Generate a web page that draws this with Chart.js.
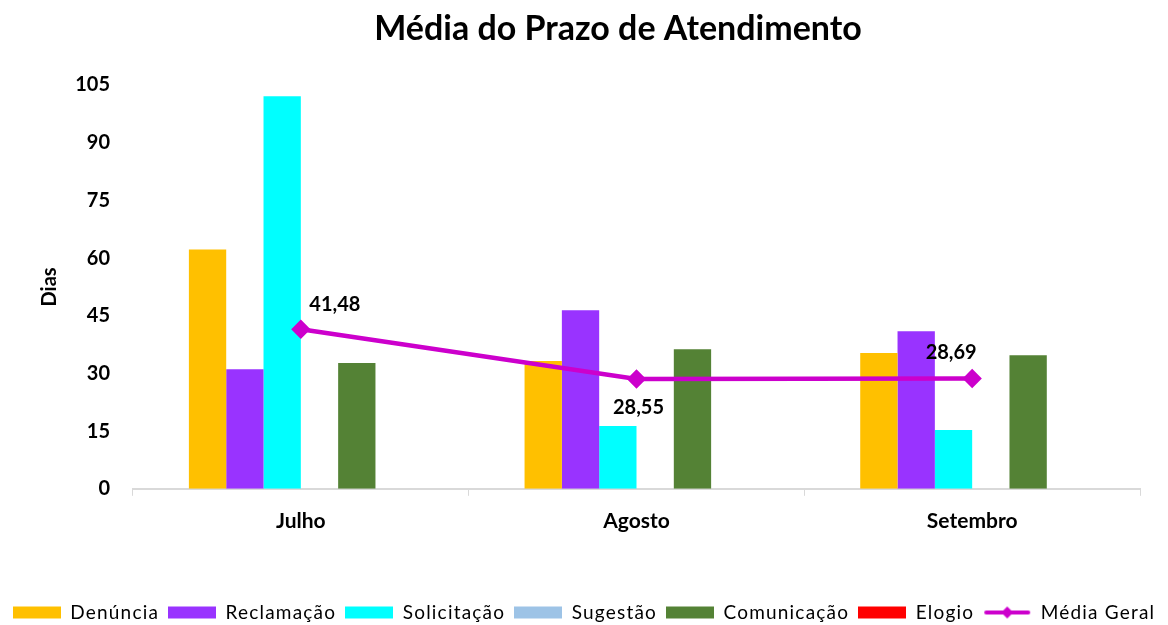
<!DOCTYPE html>
<html>
<head>
<meta charset="utf-8">
<script src="https://cdn.jsdelivr.net/npm/chart.js@4/dist/chart.umd.min.js"></script>
<style>
  body { margin: 0; background: #fff; }
  #wrap { width: 1168px; height: 625px; }
</style>
</head>
<body>
<div id="wrap"><canvas id="chart" width="1168" height="625"></canvas></div>
<script>
const months = ['Julho', 'Agosto', 'Setembro'];
const denuncia = [62.2, 33.2, 35.3];
const reclamacao = [31.1, 46.4, 41.0];
const solicitacao = [102.1, 16.3, 15.3];
const sugestao = [0, 0, 0];
const comunicacao = [32.7, 36.3, 34.7];
const elogio = [0, 0, 0];
const mediaGeral = [41.48, 28.55, 28.69];

const FONT = 'Lato, "Open Sans", sans-serif';
const ctx = document.getElementById('chart');

// legend swatches as small canvases
function swatch(color, isLine) {
  const c = document.createElement('canvas');
  c.width = 48;
  c.height = 14;
  const g = c.getContext('2d');
  if (isLine) {
    g.strokeStyle = color;
    g.lineWidth = 4;
    g.lineCap = 'round';
    g.beginPath();
    g.moveTo(3, 7);
    g.lineTo(45, 7);
    g.stroke();
    g.fillStyle = color;
    g.beginPath();
    g.moveTo(24, 1);
    g.lineTo(30, 7);
    g.lineTo(24, 13);
    g.lineTo(18, 7);
    g.closePath();
    g.fill();
  } else {
    g.fillStyle = color;
    g.fillRect(0, 1, 48, 12);
  }
  return c;
}

// labels next to the Média Geral points (offsets in px)
const labelOffsets = [[34, -25], [2, 29], [-21, -26]];

const pointLabels = {
  id: 'pointLabels',
  afterDatasetsDraw(chart) {
    const idx = chart.data.datasets.findIndex((d) => d.type === 'line');
    const meta = chart.getDatasetMeta(idx);
    const c = chart.ctx;
    c.save();
    c.font = 'bold 20px ' + FONT;
    c.fillStyle = '#000';
    c.textAlign = 'center';
    c.textBaseline = 'middle';
    meta.data.forEach((pt, i) => {
      const txt = mediaGeral[i].toFixed(2).replace('.', ',');
      c.fillText(txt, pt.x + labelOffsets[i][0], pt.y + labelOffsets[i][1]);
    });
    c.restore();
  },
};

const titlePlugin = {
  id: 'titlePlugin',
  afterDraw(chart) {
    const c = chart.ctx;
    c.save();
    c.font = 'bold 34px ' + FONT;
    c.fillStyle = '#000';
    c.textAlign = 'center';
    c.textBaseline = 'middle';
    c.fillText('Média do Prazo de Atendimento', 618, 29);
    c.restore();
  },
};

// the legend text in the original is slightly letter-spaced
const legendSpacing = {
  id: 'legendSpacing',
  beforeUpdate(chart) {
    const lg = chart.legend;
    if (!lg || lg._spaced) return;
    lg._spaced = true;
    const wrap = (name) => {
      const orig = lg[name];
      lg[name] = function (...args) {
        const c = this.ctx;
        c.save();
        c.letterSpacing = '1.2px';
        const r = orig.apply(this, args);
        c.restore();
        return r;
      };
    };
    wrap('fit');
    wrap('draw');
  },
};

const barColors = ['#FFC000', '#9933FF', '#00FFFF', '#9DC3E6', '#548235', '#FF0000'];

new Chart(ctx, {
  data: {
    labels: months,
    datasets: [
      { type: 'line', label: 'Média Geral', data: mediaGeral, borderColor: '#CC00CC', backgroundColor: '#CC00CC',
        borderWidth: 4.5, pointStyle: 'rectRot', pointRadius: 6.5, pointHoverRadius: 6.5, order: 0 },
      { type: 'bar', label: 'Denúncia', data: denuncia, backgroundColor: barColors[0], order: 1 },
      { type: 'bar', label: 'Reclamação', data: reclamacao, backgroundColor: barColors[1], order: 1 },
      { type: 'bar', label: 'Solicitação', data: solicitacao, backgroundColor: barColors[2], order: 1 },
      { type: 'bar', label: 'Sugestão', data: sugestao, backgroundColor: barColors[3], order: 1 },
      { type: 'bar', label: 'Comunicação', data: comunicacao, backgroundColor: barColors[4], order: 1 },
      { type: 'bar', label: 'Elogio', data: elogio, backgroundColor: barColors[5], order: 1 },
    ],
  },
  options: {
    responsive: false,
    animation: false,
    layout: { padding: { top: 85, left: 0, right: 0, bottom: -7 } },
    datasets: {
      bar: { categoryPercentage: 0.667, barPercentage: 1, borderWidth: 0 },
    },
    scales: {
      x: {
        offset: true,
        grid: { display: true, offset: true, drawOnChartArea: false, drawTicks: true, tickLength: 7, color: '#d9d9d9' },
        border: { color: '#d9d9d9', width: 2 },
        ticks: { color: '#000', font: { family: FONT, size: 21, weight: 'bold' }, padding: 13 },
        title: { display: true, text: ' ', font: { size: 10 }, padding: { top: 35, bottom: 0 } },
      },
      y: {
        min: 0,
        max: 105,
        grid: { display: false, drawTicks: false },
        border: { display: false },
        ticks: { stepSize: 15, color: '#000', font: { family: FONT, size: 20, weight: 'bold' }, padding: 23 },
        title: { display: true, text: 'Dias', color: '#000', font: { family: FONT, size: 20, weight: 'bold' }, padding: { top: 38, bottom: 0 } },
        afterFit(scale) { scale.width = 133; },
      },
      // empty right margin
      yRight: {
        position: 'right',
        grid: { display: false, drawTicks: false },
        border: { display: false },
        ticks: { display: false },
        afterFit(scale) { scale.width = 28; },
      },
    },
    plugins: {
      title: { display: false },
      tooltip: { enabled: false },
      legend: {
        position: 'bottom',
        labels: {
          color: '#000',
          font: { family: FONT, size: 19 },
          usePointStyle: true,
          pointStyleWidth: 48,
          padding: 9,
          generateLabels(chart) {
            const order = [1, 2, 3, 4, 5, 6, 0];
            return order.map((i) => {
              const ds = chart.data.datasets[i];
              return {
                text: ds.label,
                datasetIndex: i,
                pointStyle: swatch(ds.backgroundColor, ds.type === 'line'),
                fillStyle: ds.backgroundColor,
                strokeStyle: ds.backgroundColor,
                lineWidth: 0,
                fontColor: '#000',
              };
            });
          },
        },
      },
    },
  },
  plugins: [pointLabels, titlePlugin, legendSpacing],
});
</script>
</body>
</html>
